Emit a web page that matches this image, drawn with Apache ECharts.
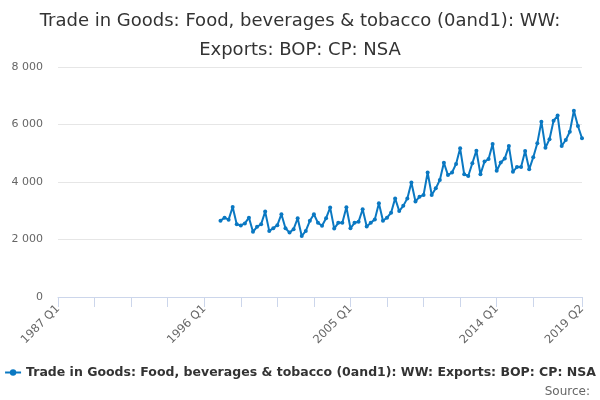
<!DOCTYPE html>
<html>
<head>
<meta charset="utf-8">
<script src="https://cdn.jsdelivr.net/npm/echarts@6/dist/echarts.min.js"></script>
<style>
  html, body { margin: 0; padding: 0; background: #fff; }
  #chart { width: 600px; height: 400px; }
</style>
</head>
<body>
<div id="chart"></div>
<script>
// Chart data
const seriesName = 'Trade in Goods: Food, beverages & tobacco (0and1): WW: Exports: BOP: CP: NSA';
const firstYear = 1987;
const lastYear = 2019;
const lastQuarter = 2;
const dataStart = '1997 Q1';
const exportValues = [
    2650, 2760, 2690, 3130,
    2530, 2490, 2560, 2760,
    2270, 2440, 2530, 2970,
    2300, 2390, 2500, 2880,
    2390, 2240, 2360, 2740,
    2120, 2300, 2650, 2880,
    2580, 2480, 2740, 3110,
    2380, 2580, 2580, 3120,
    2390, 2580, 2620, 3050,
    2450, 2580, 2700, 3260,
    2650, 2760, 2930, 3430,
    2990, 3170, 3430, 3980,
    3320, 3490, 3550, 4330,
    3550, 3780, 4070, 4670,
    4240, 4330, 4630, 5170,
    4270, 4210, 4650, 5090,
    4270, 4710, 4800, 5320,
    4390, 4680, 4820, 5250,
    4360, 4520, 4520, 5080,
    4440, 4860, 5350, 6100,
    5190, 5490, 6130, 6310,
    5250, 5460, 5750, 6480,
    5950, 5520
];
const yTicks = [0, 2000, 4000, 6000, 8000];

// Build quarter categories
const quarters = [];
for (let y = firstYear; y <= lastYear; y++) {
    for (let q = 1; q <= 4; q++) {
        if (y === lastYear && q > lastQuarter) break;
        quarters.push(y + ' Q' + q);
    }
}

// Pad series with nulls before the data starts
const offset = quarters.indexOf(dataStart);
const seriesData = quarters.map((q, i) => {
    const k = i - offset;
    return k >= 0 && k < exportValues.length ? exportValues[k] : null;
});

// Format number with space as thousands separator
function formatNumber(num) {
    return num.toString().replace(/\B(?=(\d{3})+(?!\d))/g, ' ');
}

const lastIndex = quarters.length - 1;
const fontFamily = '"DejaVu Sans", sans-serif';
const lineColor = '#0a78c2';

const chart = echarts.init(document.getElementById('chart'));
chart.setOption({
    animation: false,
    textStyle: { fontFamily: fontFamily },
    title: {
        text: 'Trade in Goods: Food, beverages & tobacco (0and1): WW:\nExports: BOP: CP: NSA',
        left: 'center',
        top: 2,
        textStyle: {
            fontFamily: fontFamily,
            fontSize: 18,
            fontWeight: 'normal',
            color: '#333333',
            lineHeight: 29
        }
    },
    legend: {
        data: [seriesName],
        bottom: 16,
        left: 'center',
        itemWidth: 16,
        itemHeight: 8,
        itemGap: 5,
        textStyle: {
            fontFamily: fontFamily,
            fontSize: 12.5,
            fontWeight: 'bold',
            color: '#333333'
        }
    },
    graphic: [{
        type: 'text',
        right: 10,
        bottom: 2,
        style: {
            text: 'Source:',
            fontFamily: fontFamily,
            fontSize: 12,
            fill: '#666666'
        }
    }],
    grid: {
        left: 58,
        right: 18,
        top: 67,
        bottom: 103,
        containLabel: false
    },
    xAxis: {
        type: 'category',
        data: quarters,
        boundaryGap: false,
        axisLine: { lineStyle: { color: '#ccd6eb', width: 1 } },
        axisTick: {
            length: 10,
            lineStyle: { color: '#ccd6eb' },
            interval: (index) => (index % 9 === 0 && index <= 117) || index === lastIndex
        },
        axisLabel: {
            rotate: 45,
            color: '#666666',
            fontSize: 11.5,
            margin: 10,
            interval: (index) => index % 36 === 0 || index === lastIndex
        },
        splitLine: { show: false }
    },
    yAxis: {
        type: 'value',
        min: yTicks[0],
        max: yTicks[yTicks.length - 1],
        interval: 2000,
        axisLine: { show: false },
        axisTick: { show: false },
        axisLabel: {
            color: '#666666',
            fontSize: 11,
            margin: 15,
            formatter: (v) => formatNumber(v)
        },
        splitLine: { lineStyle: { color: '#e6e6e6', width: 1 } }
    },
    series: [{
        name: seriesName,
        type: 'line',
        data: seriesData,
        connectNulls: false,
        symbol: 'circle',
        symbolSize: 4,
        showSymbol: true,
        showAllSymbol: true,
        lineStyle: { color: lineColor, width: 2 },
        itemStyle: { color: lineColor }
    }]
});
</script>
</body>
</html>
